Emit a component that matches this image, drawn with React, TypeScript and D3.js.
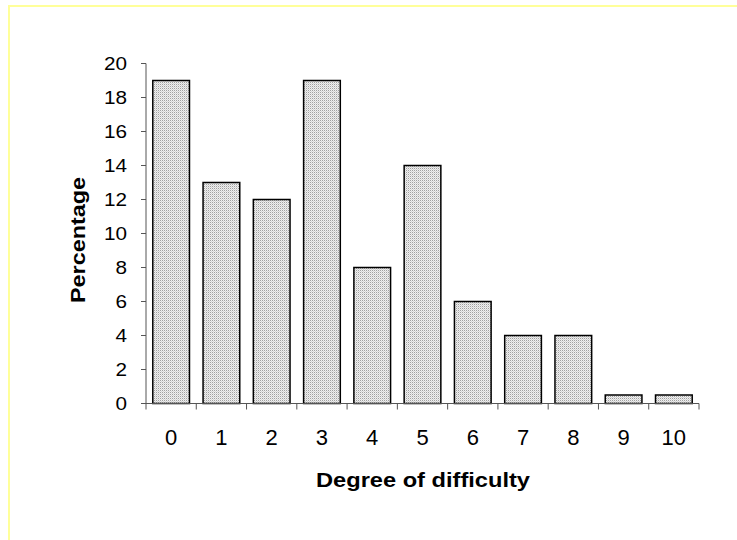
import React from "react";
import * as d3 from "d3";

const categories = ["0", "1", "2", "3", "4", "5", "6", "7", "8", "9", "10"];
const values = [19, 13, 12, 19, 8, 14, 6, 4, 4, 0.5, 0.5];
const yTicks = [0, 2, 4, 6, 8, 10, 12, 14, 16, 18, 20];

export default function App() {
  const W = 737, H = 540;
  const x = d3.scaleBand<string>().domain(categories).range([146, 699]).paddingInner(0.27).paddingOuter(0.135);
  const xb = d3.scaleBand<string>().domain(categories).range([146, 699]);
  const y = d3.scaleLinear().domain([0, 20]).range([403.5, 63.5]);
  const font = "Arial, 'Liberation Sans', sans-serif";
  return (
    <svg width={W} height={H} style={{ position: "absolute", left: 0, top: 0 }}>
      <defs>
        <pattern id="dots" width="2" height="2" patternUnits="userSpaceOnUse">
          <rect width="2" height="2" fill="#efefef" />
          <rect width="1" height="1" fill="#a0a0a0" />
          <rect x="1" y="1" width="1" height="1" fill="#d4d4d4" />
        </pattern>
      </defs>
      <rect x={0} y={0} width={W} height={H} fill="#fff" />
      <rect x={9} y={6} width={W + 20} height={H + 20} fill="none" stroke="#ffff99" strokeWidth={2} />
      {/* bars */}
      {values.map((v, i) => (
        <rect key={i} x={x(categories[i])!} y={y(v)} width={x.bandwidth()} height={y(0) - y(v)}
          fill="url(#dots)" stroke="#000" strokeWidth={1.5} />
      ))}
      {/* y axis */}
      <line x1={146} x2={146} y1={y(20)} y2={y(0)} stroke="#555" strokeWidth={1} />
      {yTicks.map((t) => (
        <g key={t}>
          <line x1={141} x2={146} y1={y(t)} y2={y(t)} stroke="#555" />
          <text transform={`translate(127,${y(t)}) scale(1.15,1)`} dy="0.36em" textAnchor="end" fontFamily={font} fontSize={18} fill="#000">{t}</text>
        </g>
      ))}
      {/* x axis */}
      <line x1={146} x2={699} y1={y(0)} y2={y(0)} stroke="#555" strokeWidth={1} />
      {categories.map((c) => (
        <line key={"t" + c} x1={xb(c)!} x2={xb(c)!} y1={y(0)} y2={y(0) + 6} stroke="#555" />
      ))}
      <line x1={699} x2={699} y1={y(0)} y2={y(0) + 6} stroke="#555" />
      {categories.map((c) => (
        <text key={"l" + c} x={xb(c)! + xb.bandwidth() / 2} y={445} textAnchor="middle" fontFamily={font} fontSize={22} fill="#000">{c}</text>
      ))}
      <text x={423} y={487} textAnchor="middle" fontFamily={font} fontSize={19.5} fontWeight="bold" fill="#000"
        textLength={214} lengthAdjust="spacingAndGlyphs">Degree of difficulty</text>
      <text transform={`translate(85,240) rotate(-90)`} textAnchor="middle" fontFamily={font} fontSize={20.5} fontWeight="bold" fill="#000"
        textLength={126} lengthAdjust="spacingAndGlyphs">Percentage</text>
    </svg>
  );
}
